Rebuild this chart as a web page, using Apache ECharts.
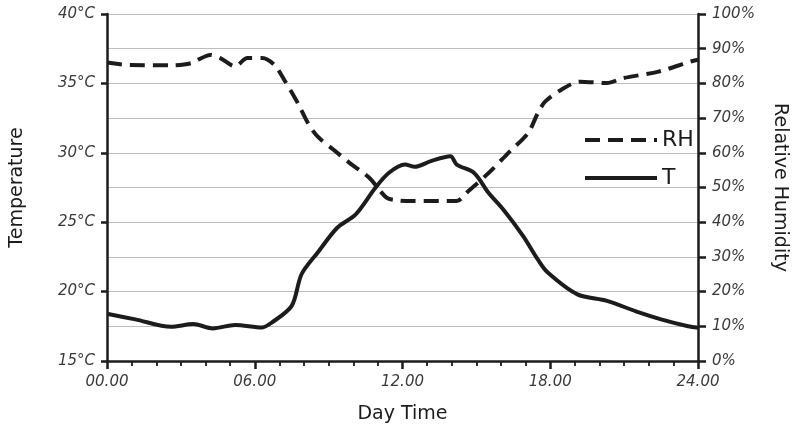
<!DOCTYPE html>
<html>
<head>
<meta charset="utf-8">
<script src="https://cdn.jsdelivr.net/npm/echarts@6/dist/echarts.min.js"></script>
<style>
  html, body { margin: 0; padding: 0; background: #fff; }
  #chart { width: 797px; height: 429px; }
</style>
</head>
<body>
<div id="chart"></div>
<script>
// Hours of the day at which readings were taken
const rhHours = [0, 0.9, 2.6, 3.4, 4.2, 4.6, 5.2, 5.7, 6.3, 6.8, 7.2, 7.75, 8.15, 8.55, 9.2, 9.85, 10.65, 11.35, 11.8, 12.4, 14.2, 14.6, 15.5, 16.3, 17.1, 17.5, 17.8, 18.45, 19.2, 20.3, 20.95, 22.4, 23.7, 24];
// Relative humidity (%)
const rhValues = [86.0, 85.3, 85.2, 85.8, 88.2, 87.3, 84.9, 87.3, 87.3, 85.3, 81.0, 74.3, 68.7, 64.7, 60.9, 57.1, 52.8, 47.1, 46.3, 46.1, 46.1, 48.5, 54.2, 60.0, 65.7, 71.5, 74.8, 78.2, 80.5, 80.1, 81.5, 83.4, 86.3, 86.8];

const tHours = [0, 1.15, 2.6, 3.5, 4.3, 5.2, 6.3, 6.7, 7.5, 7.9, 8.55, 9.35, 10.1, 10.9, 11.45, 12.1, 12.5, 13.15, 13.95, 14.2, 14.9, 15.5, 16.1, 16.9, 17.5, 17.9, 19.1, 20.3, 21.6, 22.5, 23.6, 24];
// Air temperature (°C)
const tValues = [18.4, 18.0, 17.46, 17.66, 17.35, 17.6, 17.42, 17.78, 18.97, 21.25, 22.8, 24.6, 25.56, 27.48, 28.56, 29.15, 28.99, 29.4, 29.75, 29.15, 28.56, 27.1, 25.9, 24.0, 22.3, 21.37, 19.8, 19.33, 18.5, 18.0, 17.5, 17.4];

// Tick labels
const timeTicks = [0, 6, 12, 18, 24];
const timeLabels = ['00.00', '06.00', '12.00', '18.00', '24.00'];

const ink = '#1c1c1c';
const labelFont = { fontFamily: 'DejaVu Sans', fontStyle: 'italic', fontSize: 15, color: '#3a3a3a' };
const titleFont = { fontFamily: 'DejaVu Sans', fontSize: 19, color: ink };

function pairs(xs, ys) { return xs.map((x, i) => [x, ys[i]]); }

const chart = echarts.init(document.getElementById('chart'), null, { renderer: 'canvas' });
chart.setOption({
  backgroundColor: '#ffffff',
  animation: false,
  grid: { left: 101, right: 91, top: 14, bottom: 67 },
  legend: {
    orient: 'vertical',
    left: 578,
    top: 124,
    itemWidth: 72,
    itemHeight: 14,
    itemGap: 16,
    itemStyle: { color: 'transparent', borderWidth: 0 },
    lineStyle: { width: 4, color: ink },
    textStyle: { fontFamily: 'DejaVu Sans', fontSize: 22, color: ink },
    data: ['RH', 'T']
  },
  xAxis: {
    type: 'value',
    min: 0, max: 24, interval: 6,
    name: 'Day Time',
    nameLocation: 'middle',
    nameGap: 44,
    nameTextStyle: titleFont,
    axisLine: { lineStyle: { color: ink, width: 2.5 } },
    axisTick: { show: true, length: 8, lineStyle: { color: ink, width: 2.5 } },
    minorTick: { show: true, splitNumber: 6, length: 5, lineStyle: { color: ink, width: 1.8 } },
    splitLine: { show: false },
    axisLabel: Object.assign({
      margin: 14,
      formatter: v => timeLabels[timeTicks.indexOf(v)]
    }, labelFont)
  },
  yAxis: [
    {
      type: 'value',
      min: 15, max: 40, interval: 5,
      name: 'Temperature',
      nameLocation: 'middle',
      nameGap: 80,
      nameRotate: 90,
      nameTextStyle: titleFont,
      axisLine: { show: true, lineStyle: { color: ink, width: 2.5 } },
      axisTick: { show: true, length: 6, lineStyle: { color: ink, width: 2.5 } },
      splitLine: { show: false },
      axisLabel: Object.assign({ margin: 12, formatter: v => v + '°C' }, labelFont)
    },
    {
      type: 'value',
      min: 0, max: 100, interval: 10,
      name: 'Relative Humidity',
      nameLocation: 'middle',
      nameGap: 72,
      nameRotate: -90,
      nameTextStyle: titleFont,
      axisLine: { show: true, lineStyle: { color: ink, width: 2.5 } },
      axisTick: { show: true, length: 8, lineStyle: { color: ink, width: 2.5 } },
      splitLine: { show: true, lineStyle: { color: '#bdbdbd', width: 1 } },
      axisLabel: Object.assign({ margin: 14, formatter: v => v + '%' }, labelFont)
    }
  ],
  series: [
    {
      name: 'RH',
      type: 'line',
      yAxisIndex: 1,
      data: pairs(rhHours, rhValues),
      smooth: 0.3,
      symbol: 'none',
      lineStyle: { color: ink, width: 4, type: [15, 8] },
      itemStyle: { color: ink }
    },
    {
      name: 'T',
      type: 'line',
      yAxisIndex: 0,
      data: pairs(tHours, tValues),
      smooth: 0.3,
      symbol: 'none',
      lineStyle: { color: ink, width: 4 },
      itemStyle: { color: ink }
    }
  ]
});
</script>
</body>
</html>
